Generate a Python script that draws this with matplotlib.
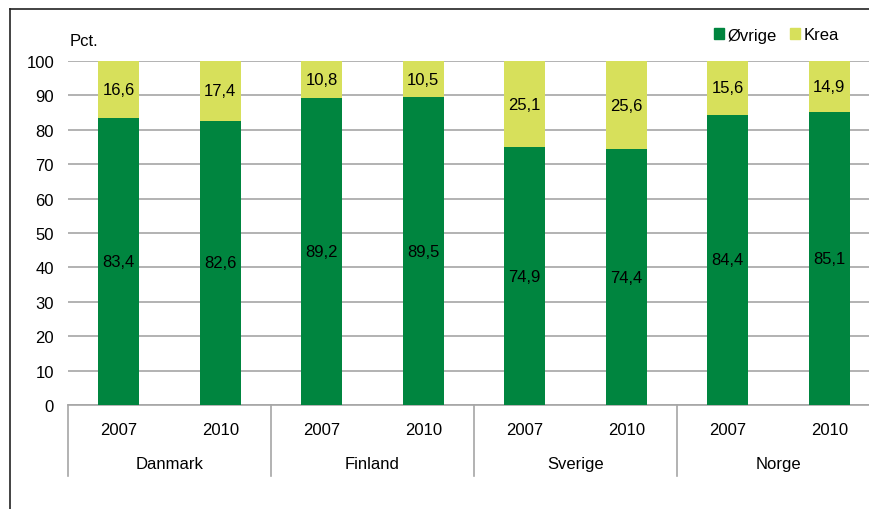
import matplotlib.pyplot as plt
from matplotlib.lines import Line2D
from matplotlib.patches import Patch
import numpy as np

plt.rcParams['font.family'] = ['Liberation Sans', 'DejaVu Sans']

countries = ['Danmark', 'Finland', 'Sverige', 'Norge']
years = ['2007', '2010']
ovrige = [83.4, 82.6, 89.2, 89.5, 74.9, 74.4, 84.4, 85.1]
krea = [16.6, 17.4, 10.8, 10.5, 25.1, 25.6, 15.6, 14.9]

green = '#00853F'
yellow = '#D7E05B'
gray = '#A6A6A6'

fig = plt.figure(figsize=(8.69, 5.10), dpi=100)
ax = fig.add_axes([68 / 869, 1 - 406 / 510, 812 / 869, 344 / 510])

x = np.arange(len(ovrige))
ax.bar(x, ovrige, width=0.4, color=green, zorder=3)
ax.bar(x, krea, width=0.4, bottom=ovrige, color=yellow, zorder=3)

for xi, o, k in zip(x, ovrige, krea):
    ax.text(xi, o / 2, f'{o:.1f}'.replace('.', ','), ha='center', va='center', fontsize=12, zorder=4)
    ax.text(xi, o + k / 2, f'{k:.1f}'.replace('.', ','), ha='center', va='center', fontsize=12, zorder=4)

ax.set_xlim(-0.5, len(ovrige) - 0.5)
ax.set_ylim(0, 100)
ax.set_yticks(range(0, 101, 10))
ax.tick_params(axis='y', length=0, pad=10, labelsize=12)
ax.yaxis.grid(True, color=gray, linewidth=1.2, zorder=0)

for s in ['left', 'right', 'top']:
    ax.spines[s].set_visible(False)
ax.spines['bottom'].set_color(gray)
ax.spines['bottom'].set_linewidth(1.2)

ax.set_xticks(x)
ax.set_xticklabels(years * len(countries))
ax.tick_params(axis='x', length=0, pad=12, labelsize=12)

trans = ax.get_xaxis_transform()
for i, c in enumerate(countries):
    ax.text(2 * i + 0.5, -59 / 344, c, transform=trans, ha='center', va='center', fontsize=12)
for b in np.arange(-0.5, len(ovrige), 2):
    ax.add_line(Line2D([b, b], [0, -71 / 344], transform=trans, color=gray, linewidth=1.2, clip_on=False))

fig.text(70 / 869, 1 - 42 / 510, 'Pct.', fontsize=12, va='center', ha='left')

handles = [Patch(color=green, label='Øvrige'), Patch(color=yellow, label='Krea')]
fig.legend(handles=handles, loc='center left', bbox_to_anchor=(706 / 869, 1 - 36 / 510), ncol=2,
           frameon=False, fontsize=12, handlelength=0.6, handleheight=0.6, handletextpad=0.2,
           columnspacing=0.8, borderpad=0)

# frame around the figure
fig.add_artist(Line2D([10 / 869, 10 / 869], [0, 1 - 10 / 510], color='#222222', linewidth=1.2))
fig.add_artist(Line2D([10 / 869, 1], [1 - 10 / 510, 1 - 10 / 510], color='#222222', linewidth=1.2))

fig.savefig('out.png', dpi=100)
